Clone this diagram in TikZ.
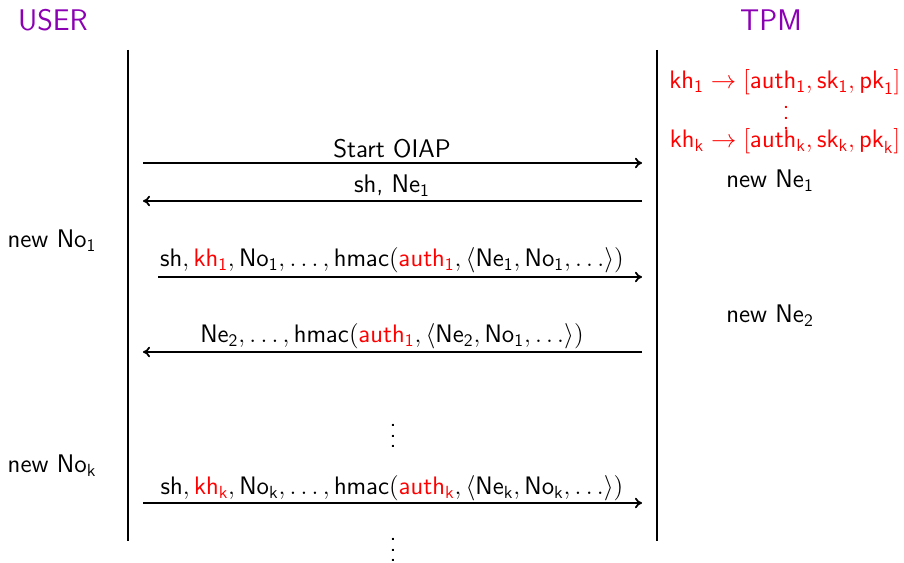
\documentclass[tikz,border=0pt]{standalone}
\usetikzlibrary{arrows.meta}
\renewcommand\familydefault{\sfdefault}
\newcommand\ms[1]{\mathsf{#1}}
\newcommand\rd[1]{{\color{red}#1}}
\newcommand\myvdots{\vbox{\baselineskip6pt\lineskiplimit0pt\hbox{.}\hbox{.}\hbox{.}}}
\definecolor{hdr}{RGB}{140,0,180}
\begin{document}
\begin{tikzpicture}[x=0.02cm,y=-0.02cm,
  msg/.style={line width=1pt,-{To[length=4pt,width=6pt]}},
  life/.style={line width=1pt},
  lbl/.style={inner sep=0pt,font=\fontsize{14.5}{17}\selectfont},
  hdrlbl/.style={inner sep=0pt,text=hdr,font=\fontsize{17}{20}\selectfont}]
\useasboundingbox (0,0) rectangle (904,563);
\node[hdrlbl] (user) at (53,20) {USER};
\node[hdrlbl] (tpm) at (771,20) {TPM};
\coordinate (ut) at (128,50); \coordinate (ub) at (128,541);
\coordinate (tt) at (657,50); \coordinate (tb) at (657,541);
\draw[life] (ut) -- (ub);
\draw[life] (tt) -- (tb);
% keys
\node[lbl,text=red] (k1) at (785,82) {$\ms{kh}_{\ms{1}}\rightarrow[\ms{auth}_{\ms{1}},\ms{sk}_{\ms{1}},\ms{pk}_{\ms{1}}]$};
\node[lbl,text=red] (kd) at (786,118) {\myvdots};
\node[lbl,text=red] (kk) at (785,141) {$\ms{kh}_{\ms{k}}\rightarrow[\ms{auth}_{\ms{k}},\ms{sk}_{\ms{k}},\ms{pk}_{\ms{k}}]$};
% messages
\coordinate (a1s) at (143,163); \coordinate (a1e) at (642,163);
\draw[msg] (a1s) -- (a1e);
\node[lbl] (m1) at (392,149) {Start OIAP};
\coordinate (a2s) at (642,201); \coordinate (a2e) at (143,201);
\draw[msg] (a2s) -- (a2e);
\node[lbl] (m2) at (392,186) {sh, Ne$_{\ms{1}}$};
\node[lbl] (ne1) at (770,181) {new Ne$_{\ms{1}}$};
\node[lbl] (no1) at (52,241) {new No$_{\ms{1}}$};
\coordinate (a3s) at (158,277); \coordinate (a3e) at (642,277);
\draw[msg] (a3s) -- (a3e);
\node[lbl] (m3) at (392,260) {$\ms{sh},\rd{\ms{kh}_{\ms{1}}},\ms{No}_{\ms{1}},\ldots,\ms{hmac}(\rd{\ms{auth}_{\ms{1}}},\langle\ms{Ne}_{\ms{1}},\ms{No}_{\ms{1}},\ldots\rangle)$};
\node[lbl] (ne2) at (770,316) {new Ne$_{\ms{2}}$};
\coordinate (a4s) at (642,352); \coordinate (a4e) at (143,352);
\draw[msg] (a4s) -- (a4e);
\node[lbl] (m4) at (392,336) {$\ms{Ne}_{\ms{2}},\ldots,\ms{hmac}(\rd{\ms{auth}_{\ms{1}}},\langle\ms{Ne}_{\ms{2}},\ms{No}_{\ms{1}},\ldots\rangle)$};
\node[lbl] (d1) at (393,436) {\myvdots};
\node[lbl] (nok) at (52,466) {new No$_{\ms{k}}$};
\coordinate (a5s) at (143,503); \coordinate (a5e) at (642,503);
\draw[msg] (a5s) -- (a5e);
\node[lbl] (m5) at (392,488) {$\ms{sh},\rd{\ms{kh}_{\ms{k}}},\ms{No}_{\ms{k}},\ldots,\ms{hmac}(\rd{\ms{auth}_{\ms{k}}},\langle\ms{Ne}_{\ms{k}},\ms{No}_{\ms{k}},\ldots\rangle)$};
\node[lbl] (d2) at (393,550) {\myvdots};
\end{tikzpicture}
\end{document}
